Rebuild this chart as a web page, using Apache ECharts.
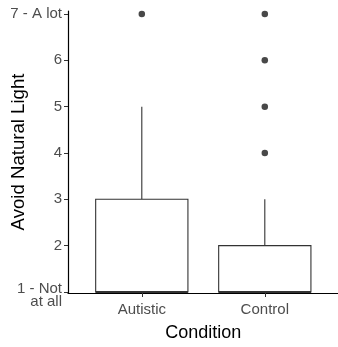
<!DOCTYPE html>
<html>
<head>
<meta charset="utf-8">
<script src="https://cdn.jsdelivr.net/npm/echarts@6/dist/echarts.min.js"></script>
<style>html,body{margin:0;padding:0;background:#fff}#c{width:338px;height:347px}</style>
</head>
<body>
<div id="c"></div>
<script>
var categories = ['Autistic', 'Control'];
var mins = [1, 1];
var q1s = [1, 1];
var medians = [1, 1];
var q3s = [3, 2];
var maxs = [5, 3];
var outliersAutistic = [7];
var outliersControl = [4, 5, 6, 7];
var yTickValues = [1, 2, 3, 4, 5, 6, 7];
var yTickLabels = ['1 - Not\nat all', '2', '3', '4', '5', '6', '7 - A lot'];

var boxData = categories.map(function (c, i) {
  return [i + 1, mins[i], q1s[i], medians[i], q3s[i], maxs[i]];
});
var outlierData = [];
outliersAutistic.forEach(function (v) { outlierData.push([1, v]); });
outliersControl.forEach(function (v) { outlierData.push([2, v]); });

var chart = echarts.init(document.getElementById('c'));
var lineColor = '#333333';
chart.setOption({
  animation: false,
  grid: { left: 68, top: 11, width: 270.6, height: 282, containLabel: false, outerBoundsMode: 'none' },
  xAxis: {
    type: 'value', min: 0.4, max: 2.6,
    splitLine: { show: false },
    axisLine: { show: true, lineStyle: { color: '#000', width: 1.2 } },
    axisTick: { show: true, customValues: [1, 2], length: 4, lineStyle: { color: '#333' } },
    axisLabel: {
      customValues: [1, 2], margin: 9,
      fontFamily: 'Liberation Sans', fontSize: 15, color: '#4d4d4d',
      formatter: function (v) { return categories[Math.round(v) - 1] || ''; }
    },
    name: 'Condition', nameLocation: 'middle', nameGap: 31, nameMoveOverlap: false,
    nameTextStyle: { fontFamily: 'Liberation Sans', fontSize: 18, color: '#000' }
  },
  yAxis: {
    type: 'value', min: 0.978, max: 7.065,
    splitLine: { show: false },
    axisLine: { show: true, lineStyle: { color: '#000', width: 1.2 } },
    axisTick: { show: true, customValues: yTickValues, length: 4, lineStyle: { color: '#333' } },
    axisLabel: {
      customValues: yTickValues, margin: 6,
      fontFamily: 'Liberation Sans', fontSize: 15, color: '#4d4d4d',
      formatter: function (v) {
        var t = yTickLabels[Math.round(v) - 1] || '';
        if (t.indexOf('\n') >= 0) {
          return '{e| }\n' + t.split('\n').map(function (s) { return '{a|' + s + '}'; }).join('\n');
        }
        return t;
      },
      rich: {
        e: { fontSize: 1, lineHeight: 6.5 },
        a: { fontFamily: 'Liberation Sans', fontSize: 15, color: '#4d4d4d', lineHeight: 12.5, align: 'right' }
      }
    },
    name: 'Avoid Natural Light', nameLocation: 'middle', nameGap: 40, nameMoveOverlap: false,
    nameTextStyle: { fontFamily: 'Liberation Sans', fontSize: 18.6, color: '#000' }
  },
  series: [
    {
      type: 'custom',
      data: boxData,
      renderItem: function (params, api) {
        var x = api.value(0);
        var half = api.size([0.375, 0])[0];
        var pMin = api.coord([x, api.value(1)]);
        var pQ1 = api.coord([x, api.value(2)]);
        var pMed = api.coord([x, api.value(3)]);
        var pQ3 = api.coord([x, api.value(4)]);
        var pMax = api.coord([x, api.value(5)]);
        var cx = pQ1[0];
        var style = { stroke: lineColor, lineWidth: 1.1, fill: 'none' };
        return {
          type: 'group',
          children: [
            { type: 'line', shape: { x1: cx, y1: pQ3[1], x2: cx, y2: pMax[1] }, style: style },
            { type: 'line', shape: { x1: cx, y1: pMin[1], x2: cx, y2: pQ1[1] }, style: style },
            { type: 'rect', shape: { x: cx - half, y: pQ3[1], width: half * 2, height: pQ1[1] - pQ3[1] },
              style: { stroke: lineColor, lineWidth: 1.1, fill: '#fff' } },
            { type: 'line', shape: { x1: cx - half, y1: pMed[1], x2: cx + half, y2: pMed[1] },
              style: { stroke: lineColor, lineWidth: 2.2 } }
          ]
        };
      }
    },
    {
      type: 'scatter',
      data: outlierData,
      symbolSize: 6.5,
      itemStyle: { color: '#1a1a1a' }
    }
  ]
});
</script>
</body>
</html>
